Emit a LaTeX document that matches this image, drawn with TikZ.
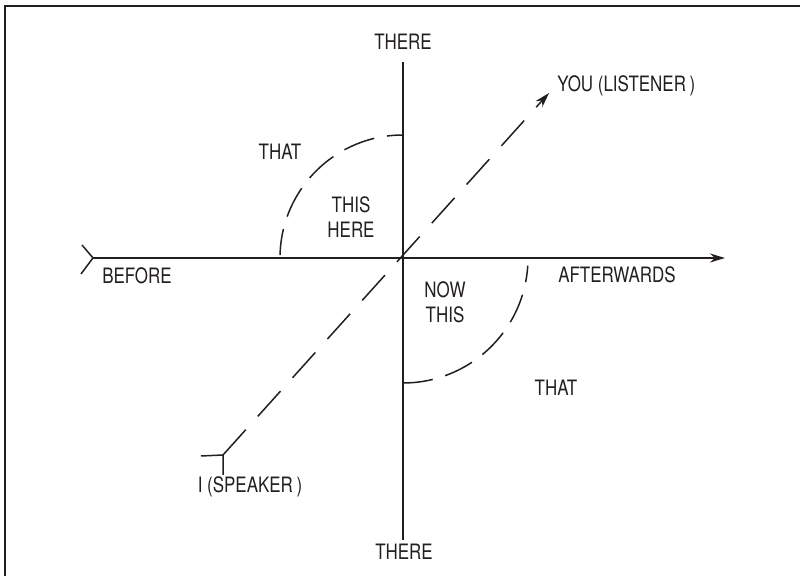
\documentclass[tikz,border=0pt]{standalone}
\usepackage{fontspec}
\setmainfont{TeX Gyre Heros}[FakeStretch=0.8]
\usetikzlibrary{arrows.meta}
\definecolor{ink}{HTML}{231F20}
\begin{document}
\begin{tikzpicture}[x=0.5pt,y=-0.5pt,
  axis/.style={draw=ink,line width=0.75pt},
  dashline/.style={draw=ink,line width=0.75pt,dash pattern=on 17pt off 9pt},
  lbl/.style={inner sep=0pt,text=ink,font=\fontsize{10.6}{12.3}\selectfont,align=center},
  tip/.style={-{Stealth[length=7.5pt,width=4.5pt]}}]
\useasboundingbox (0,0) rectangle (800,576);
% frame
\draw[ink,line width=1.1pt] (5,576) -- (5,6) -- (800,6);
% coordinates
\coordinate (O) at (403,258);
\coordinate (L) at (93,258);
\coordinate (R) at (725,258);
\coordinate (T) at (403,62);
\coordinate (B) at (403,540);
\coordinate (S) at (223,455);
\coordinate (Y) at (549,93);
\coordinate (la) at (82,245);
\coordinate (lb) at (81,274);
\coordinate (sa) at (201,456);
\coordinate (sb) at (223,475);
\coordinate (ua) at (403,135);
\coordinate (da) at (403,383);
% axes
\draw[axis,tip] (L) -- (R);
\draw[axis] (la) -- (L) -- (lb);
\draw[axis] (T) -- (B);
% diagonal
\draw[dashline,tip] (S) -- (Y);
\draw[axis] (sa) -- (S) -- (sb);
% arcs
\draw[dashline,dash pattern=on 16pt off 6.5pt,dash phase=8pt] (ua) arc[start angle=90,end angle=178.6,radius=61.5pt];
\draw[dashline,dash pattern=on 15pt off 6.5pt] (da) arc[start angle=270,end angle=356.5,radius=62.5pt];
% labels
\node[lbl] (tt) at (403,42) {THERE};
\node[lbl] (tb) at (404,552) {THERE};
\node[lbl,anchor=west] (you) at (557,86) {YOU (LISTENER\,)};
\node[lbl] (that1) at (280,152) {THAT};
\node[lbl] (this1) at (351,217) {THIS\\HERE};
\node[lbl] (now) at (445,302) {NOW\\THIS};
\node[lbl] (that2) at (556,388) {THAT};
\node[lbl] (aft) at (617,275) {AFTERWARDS};
\node[lbl] (bef) at (137,276) {BEFORE};
\node[lbl] (spk) at (250,487) {I (SPEAKER\,)};
\end{tikzpicture}
\end{document}
